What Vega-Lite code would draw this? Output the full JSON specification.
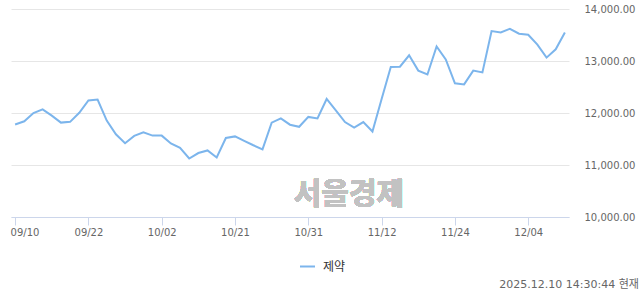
{
  "$schema": "https://vega.github.io/schema/vega-lite/v6.json",
  "width": 558,
  "height": 208,
  "padding": {"left": 10, "top": 4, "right": 0, "bottom": 0},
  "autosize": {"type": "pad"},
  "config": {"view": {"stroke": null}, "font": "DejaVu Sans, Noto Sans CJK KR"},
  "title": {"text": "2025.12.10 14:30:44 현재", "orient": "bottom", "anchor": "end", "frame": "bounds", "fontSize": 11, "fontWeight": "normal", "color": "#666666", "font": "DejaVu Sans, Noto Sans CJK KR", "offset": 6, "dx": 4},
  "data": {"values": [
    {"d": "09/10", "v": 11780}, {"d": "09/11", "v": 11840}, {"d": "09/12", "v": 12000}, {"d": "09/15", "v": 12070},
    {"d": "09/16", "v": 11950}, {"d": "09/17", "v": 11815}, {"d": "09/18", "v": 11830}, {"d": "09/19", "v": 12005},
    {"d": "09/22", "v": 12240}, {"d": "09/23", "v": 12260}, {"d": "09/24", "v": 11855}, {"d": "09/25", "v": 11590},
    {"d": "09/26", "v": 11420}, {"d": "09/29", "v": 11560}, {"d": "09/30", "v": 11630}, {"d": "10/01", "v": 11565},
    {"d": "10/02", "v": 11565}, {"d": "10/10", "v": 11415}, {"d": "10/13", "v": 11330}, {"d": "10/14", "v": 11125},
    {"d": "10/15", "v": 11230}, {"d": "10/16", "v": 11280}, {"d": "10/17", "v": 11145}, {"d": "10/20", "v": 11520},
    {"d": "10/21", "v": 11550}, {"d": "10/22", "v": 11465}, {"d": "10/23", "v": 11380}, {"d": "10/24", "v": 11300},
    {"d": "10/27", "v": 11815}, {"d": "10/28", "v": 11895}, {"d": "10/29", "v": 11775}, {"d": "10/30", "v": 11735},
    {"d": "10/31", "v": 11925}, {"d": "11/03", "v": 11895}, {"d": "11/04", "v": 12270}, {"d": "11/05", "v": 12050},
    {"d": "11/06", "v": 11825}, {"d": "11/07", "v": 11720}, {"d": "11/10", "v": 11825}, {"d": "11/11", "v": 11645},
    {"d": "11/12", "v": 12270}, {"d": "11/13", "v": 12885}, {"d": "11/14", "v": 12890}, {"d": "11/17", "v": 13110},
    {"d": "11/18", "v": 12815}, {"d": "11/19", "v": 12740}, {"d": "11/20", "v": 13280}, {"d": "11/21", "v": 13030},
    {"d": "11/24", "v": 12570}, {"d": "11/25", "v": 12550}, {"d": "11/26", "v": 12815}, {"d": "11/27", "v": 12780},
    {"d": "11/28", "v": 13575}, {"d": "12/01", "v": 13550}, {"d": "12/02", "v": 13620}, {"d": "12/03", "v": 13525},
    {"d": "12/04", "v": 13505}, {"d": "12/05", "v": 13315}, {"d": "12/08", "v": 13065}, {"d": "12/09", "v": 13225},
    {"d": "12/10", "v": 13550}
  ]},
  "layer": [
    {
      "mark": {"type": "line", "strokeWidth": 2, "interpolate": "linear"},
      "encoding": {
        "x": {
          "field": "d", "type": "ordinal",
          "scale": {"type": "point", "padding": 0.45},
          "axis": {
            "values": ["09/10", "09/22", "10/02", "10/21", "10/31", "11/12", "11/24", "12/04"],
            "title": null, "labelAngle": 0, "grid": false,
            "domainColor": "#ccd6eb", "tickColor": "#ccd6eb", "tickSize": 8,
            "labelPadding": 2, "labelColor": "#666666", "labelFontSize": 10, "labelFont": "DejaVu Sans",
            "labelFlush": 10, "labelFlushOffset": 5
          }
        },
        "y": {
          "field": "v", "type": "quantitative",
          "scale": {"domain": [10000, 14000], "nice": false, "zero": false},
          "axis": {
            "orient": "right", "format": ",.2f", "values": [10000, 11000, 12000, 13000, 14000],
            "title": null, "domain": false, "ticks": false, "gridColor": "#e6e6e6",
            "labelPadding": 15, "labelColor": "#666666", "labelFontSize": 10, "labelFont": "DejaVu Sans"
          }
        },
        "color": {
          "datum": "제약",
          "scale": {"range": ["#7cb5ec"]},
          "legend": {
            "orient": "none", "legendX": 288, "legendY": 249, "title": null,
            "symbolType": "stroke", "symbolSize": 225, "symbolStrokeWidth": 2,
            "labelFontSize": 12, "labelColor": "#333333", "labelFont": "Noto Sans CJK KR", "labelOffset": 7, "padding": 0
          }
        }
      }
    },
    {
      "mark": {"type": "text", "font": "Noto Sans CJK KR", "fontWeight": "bold", "fontSize": 30, "color": "#c2c2c2", "dx": 4},
      "encoding": {
        "x": {"datum": "11/06", "type": "ordinal"},
        "y": {"datum": 10428, "type": "quantitative"},
        "text": {"value": "서울경제"}
      }
    }
  ]
}
